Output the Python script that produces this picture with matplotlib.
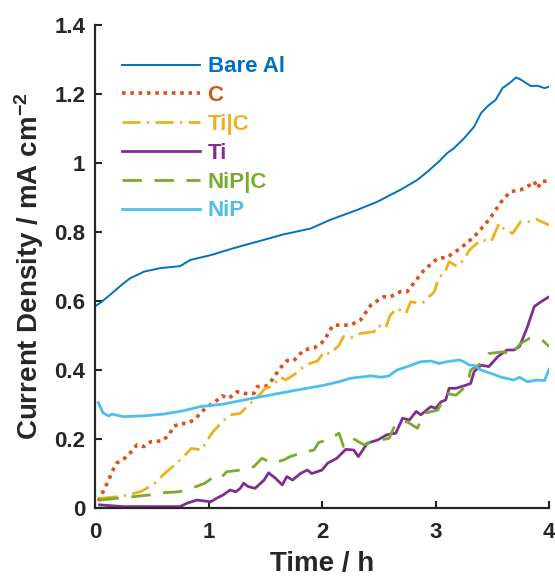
import matplotlib
matplotlib.use("Agg")
import matplotlib.pyplot as plt
from matplotlib.ticker import FixedLocator, FixedFormatter

plt.rcParams['font.family'] = ['Liberation Sans', 'DejaVu Sans']
plt.rcParams['font.weight'] = 'bold'
plt.rcParams['mathtext.fontset'] = 'custom'
plt.rcParams['mathtext.bf'] = 'Liberation Sans:bold'
plt.rcParams['mathtext.rm'] = 'Liberation Sans:bold'
plt.rcParams['mathtext.default'] = 'bf'

# ---------------- data ----------------
labels = ["Bare Al", "C", "Ti|C", "Ti", "NiP|C", "NiP"]

bare_t = [0.0, 0.04, 0.13, 0.25, 0.31, 0.40, 0.43, 0.57, 0.75, 0.84, 1.02, 1.22, 1.43, 1.66, 1.90,
          2.07, 2.31, 2.49, 2.60, 2.69, 2.84, 2.93, 3.03, 3.10, 3.16, 3.25, 3.34, 3.40, 3.46, 3.53,
          3.59, 3.65, 3.71, 3.75, 3.84, 3.90, 3.96, 4.0]
bare_v = [0.585, 0.593, 0.617, 0.651, 0.666, 0.68, 0.685, 0.695, 0.701, 0.719, 0.733, 0.753, 0.772,
          0.793, 0.81, 0.835, 0.864, 0.888, 0.907, 0.922, 0.951, 0.975, 1.004, 1.028, 1.042, 1.071,
          1.105, 1.144, 1.165, 1.183, 1.217, 1.231, 1.248, 1.242, 1.223, 1.224, 1.217, 1.221]

c_t = [0.03, 0.07, 0.12, 0.15, 0.19, 0.26, 0.32, 0.37, 0.43, 0.49, 0.60, 0.66, 0.69, 0.75, 0.81,
       0.87, 0.93, 0.97, 1.06, 1.12, 1.18, 1.25, 1.32, 1.40, 1.43, 1.50, 1.56, 1.63, 1.69, 1.75,
       1.84, 1.93, 1.99, 2.03, 2.06, 2.10, 2.25, 2.34, 2.43, 2.54, 2.60, 2.69, 2.75, 2.83, 2.90,
       3.02, 3.10, 3.22, 3.34, 3.47, 3.58, 3.66, 3.75, 3.83, 3.87, 3.90, 3.93, 3.99]
c_v = [0.02, 0.047, 0.08, 0.105, 0.13, 0.144, 0.163, 0.183, 0.178, 0.192, 0.195, 0.216, 0.236, 0.245,
       0.245, 0.255, 0.274, 0.289, 0.308, 0.325, 0.318, 0.337, 0.332, 0.332, 0.352, 0.352, 0.371,
       0.405, 0.427, 0.427, 0.458, 0.464, 0.477, 0.49, 0.511, 0.53, 0.53, 0.545, 0.588, 0.612, 0.612,
       0.627, 0.627, 0.661, 0.69, 0.724, 0.726, 0.753, 0.786, 0.835, 0.888, 0.917, 0.922, 0.936,
       0.946, 0.927, 0.946, 0.948]

tic_t = [0.04, 0.22, 0.40, 0.51, 0.57, 0.63, 0.72, 0.78, 0.85, 0.94, 0.99, 1.04, 1.12, 1.19, 1.28,
         1.34, 1.40, 1.46, 1.50, 1.56, 1.63, 1.68, 1.77, 1.84, 1.90, 1.96, 2.02, 2.07, 2.15, 2.19,
         2.25, 2.34, 2.46, 2.49, 2.56, 2.60, 2.66, 2.74, 2.78, 2.88, 2.99, 3.03, 3.08, 3.12, 3.19,
         3.25, 3.30, 3.40, 3.49, 3.56, 3.61, 3.68, 3.75, 3.84, 3.89, 4.0]
tic_v = [0.028, 0.033, 0.047, 0.067, 0.086, 0.105, 0.13, 0.149, 0.173, 0.168, 0.197, 0.221, 0.25,
         0.27, 0.274, 0.294, 0.313, 0.332, 0.347, 0.352, 0.38, 0.371, 0.39, 0.41, 0.42, 0.426, 0.453,
         0.446, 0.472, 0.497, 0.492, 0.506, 0.511, 0.53, 0.521, 0.558, 0.579, 0.564, 0.598, 0.593,
         0.627, 0.67, 0.68, 0.714, 0.70, 0.719, 0.748, 0.777, 0.772, 0.825, 0.806, 0.796, 0.83, 0.83,
         0.837, 0.82]

ti_t = [0.04, 0.25, 0.75, 0.81, 0.90, 1.02, 1.07, 1.13, 1.19, 1.24, 1.28, 1.31, 1.35, 1.41, 1.49,
        1.53, 1.59, 1.65, 1.69, 1.74, 1.81, 1.87, 1.91, 2.0, 2.05, 2.13, 2.21, 2.28, 2.32, 2.40,
        2.49, 2.57, 2.65, 2.71, 2.77, 2.83, 2.87, 2.96, 3.0, 3.05, 3.09, 3.12, 3.18, 3.25, 3.31,
        3.34, 3.40, 3.47, 3.55, 3.63, 3.69, 3.74, 3.81, 3.87, 3.93, 4.0]
ti_v = [0.009, 0.004, 0.004, 0.014, 0.023, 0.018, 0.028, 0.038, 0.052, 0.047, 0.057, 0.072, 0.062,
        0.057, 0.081, 0.102, 0.086, 0.067, 0.091, 0.081, 0.10, 0.11, 0.10, 0.11, 0.13, 0.144, 0.17,
        0.168, 0.149, 0.188, 0.197, 0.212, 0.217, 0.26, 0.255, 0.28, 0.27, 0.294, 0.289, 0.308,
        0.313, 0.347, 0.347, 0.354, 0.361, 0.395, 0.414, 0.41, 0.439, 0.458, 0.458, 0.468, 0.525,
        0.584, 0.598, 0.612]

nipc_t = [0.04, 0.49, 0.59, 0.74, 0.85, 0.93, 0.97, 1.07, 1.12, 1.16, 1.28, 1.34, 1.40, 1.47, 1.56,
          1.66, 1.72, 1.85, 1.93, 1.97, 2.05, 2.15, 2.19, 2.27, 2.37, 2.43, 2.52, 2.59, 2.65, 2.75,
          2.84, 2.90, 3.02, 3.10, 3.18, 3.28, 3.31, 3.40, 3.47, 3.61, 3.65, 3.75, 3.83, 3.94, 4.0]
nipc_v = [0.023, 0.038, 0.044, 0.047, 0.057, 0.067, 0.072, 0.096, 0.091, 0.105, 0.11, 0.115, 0.12,
          0.144, 0.13, 0.139, 0.149, 0.163, 0.168, 0.19, 0.197, 0.217, 0.178, 0.202, 0.183, 0.192,
          0.197, 0.202, 0.245, 0.25, 0.231, 0.274, 0.284, 0.332, 0.327, 0.356, 0.40, 0.419, 0.448,
          0.453, 0.439, 0.477, 0.492, 0.487, 0.468]

nip_t = [0.03, 0.07, 0.12, 0.15, 0.25, 0.43, 0.60, 0.78, 0.93, 1.13, 1.31, 1.55, 1.78, 2.02, 2.15,
         2.25, 2.43, 2.52, 2.59, 2.66, 2.77, 2.87, 2.96, 3.03, 3.10, 3.21, 3.25, 3.30, 3.34, 3.40,
         3.49, 3.58, 3.69, 3.74, 3.81, 3.90, 3.96, 4.0]
nip_v = [0.305, 0.276, 0.267, 0.272, 0.265, 0.267, 0.272, 0.282, 0.294, 0.301, 0.313, 0.328, 0.342,
         0.356, 0.366, 0.376, 0.383, 0.379, 0.383, 0.40, 0.412, 0.424, 0.426, 0.419, 0.424, 0.429,
         0.424, 0.414, 0.414, 0.40, 0.39, 0.379, 0.371, 0.379, 0.366, 0.371, 0.369, 0.402]

x_ticks = [0, 1, 2, 3, 4]
y_ticks = [0, 0.2, 0.4, 0.6, 0.8, 1.0, 1.2, 1.4]
y_tick_labels = ["0", "0.2", "0.4", "0.6", "0.8", "1", "1.2", "1.4"]

# ---------------- figure ----------------
fig = plt.figure(figsize=(5.55, 5.79), dpi=100)
ax = fig.add_axes([95 / 555, 71 / 579, 454 / 555, 483 / 579])

series = [
    (bare_t, bare_v, dict(color="#0072BD", lw=1.4, ls="-")),
    (c_t, c_v, dict(color="#D95319", lw=2.6, ls=(0, (1.0, 1.3)))),
    (tic_t, tic_v, dict(color="#EDB120", lw=2.0, ls=(0, (6.5, 2.3, 0.8, 2.3)))),
    (ti_t, ti_v, dict(color="#7E2F8E", lw=2.0, ls="-")),
    (nipc_t, nipc_v, dict(color="#77AC30", lw=2.0, ls=(0, (7.0, 4.5)))),
    (nip_t, nip_v, dict(color="#4DBEEE", lw=2.0, ls="-")),
]
for (t, v, st), lab in zip(series, labels):
    ax.plot(t, v, label=lab, color=st["color"], linewidth=st["lw"], linestyle=st["ls"])

ax.set_xlim(0, 4)
ax.set_ylim(0, 1.4)
ax.xaxis.set_major_locator(FixedLocator(x_ticks))
ax.yaxis.set_major_locator(FixedLocator(y_ticks))
ax.yaxis.set_major_formatter(FixedFormatter(y_tick_labels))

for s in ["top", "right"]:
    ax.spines[s].set_visible(False)
for s in ["left", "bottom"]:
    ax.spines[s].set_linewidth(1.6)
    ax.spines[s].set_color("#262626")

ax.tick_params(direction="in", length=5, width=1.5, color="#262626",
               labelsize=16, labelcolor="#262626")
ax.tick_params(axis="y", pad=7)
ax.tick_params(axis="x", pad=10)
for lbl in ax.get_xticklabels() + ax.get_yticklabels():
    lbl.set_fontweight("bold")

ax.set_xlabel("Time / h", fontsize=20, fontweight="bold", color="#262626", labelpad=6)
ax.set_ylabel(r"Current Density / mA cm$^{\mathbf{-2}}$", fontsize=20, fontweight="bold",
              color="#262626", labelpad=6)

leg = ax.legend(loc="upper left", bbox_to_anchor=(0.0595, 0.935), frameon=False,
                prop=dict(size=16, weight="bold"), handlelength=3.5, handletextpad=0.35,
                labelspacing=0.35, borderpad=0, borderaxespad=0)
for txt, ln in zip(leg.get_texts(), leg.get_lines()):
    txt.set_color(ln.get_color())

fig.savefig("out.png", dpi=100)
